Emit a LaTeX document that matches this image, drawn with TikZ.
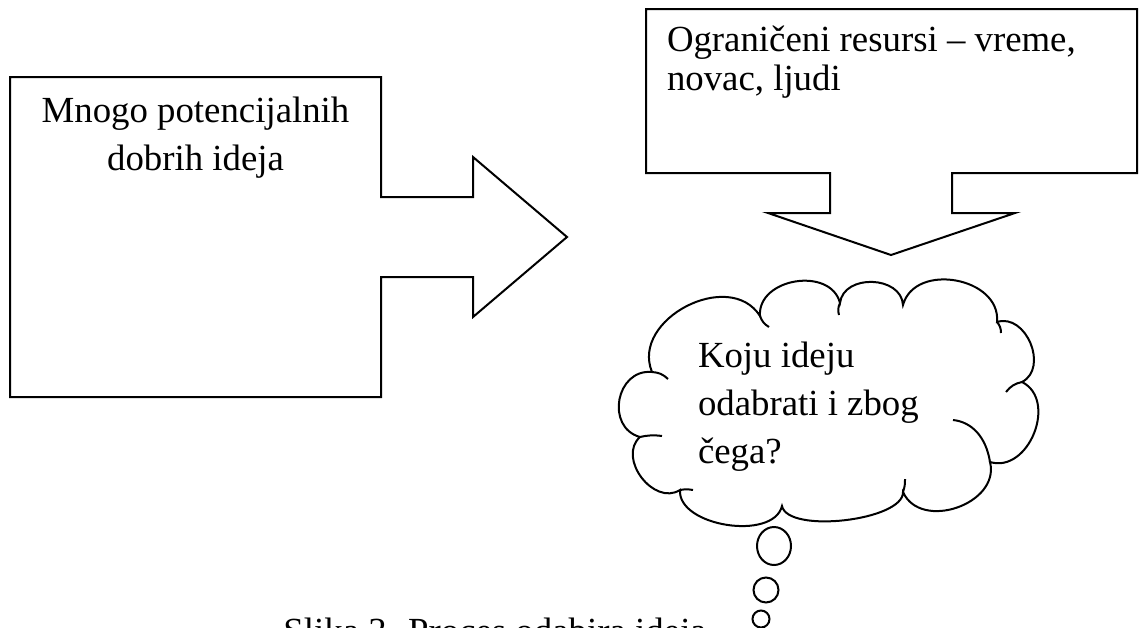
\documentclass[tikz,border=0pt]{standalone}
\usepackage{fontspec}
\setmainfont{Liberation Serif}
\begin{document}
\begin{tikzpicture}[x=0.5pt,y=-0.5pt,line width=1pt,line join=miter,
    txt/.style={inner sep=0pt,font=\fontsize{18.4}{24}\selectfont},
    puff/.style={bend left=85,looseness=1.2}]
  \useasboundingbox (0,0) rectangle (1140,627);
  \clip (0,0) rectangle (1140,627);
  \draw (10,77) -- (381,77) -- (381,197) -- (473,197) -- (473,157) -- (567,237)
        -- (473,317) -- (473,277) -- (381,277) -- (381,397) -- (10,397) -- cycle;
  \node[txt,anchor=base] (ideas1) at (195.5,122) {Mnogo potencijalnih};
  \node[txt,anchor=base] (ideas2) at (195.5,170) {dobrih ideja};
  \draw (646,9) -- (1137,9) -- (1137,173) -- (952,173) -- (952,213) -- (1015,213)
        -- (891,255) -- (768,213) -- (830,213) -- (830,173) -- (646,173) -- cycle;
  \node[txt,anchor=base west] (res1) at (666,51) {Ograničeni resursi -- vreme,};
  \node[txt,anchor=base west] (res2) at (666,90) {novac, ljudi};
  \draw (652,372) to[puff] (760,316) to[puff] (840,303) to[puff] (903,305)
        to[puff] (997,322) to[puff] (1022,382) to[puff] (990,462) to[puff] (903,492)
        to[puff,looseness=0.6] (782,506) to[puff,looseness=0.9] (680,490)
        to[puff] (640,437) to[puff,looseness=1.4] (652,372);
  \draw (652,372) to[bend left=20] (668,379);
  \draw (760,316) to[bend right=20] (769,327);
  \draw (840,303) to[bend right=20] (839,315);
  \draw (997,322) to[bend left=20] (1001,333);
  \draw (1022,382) to[bend right=20] (1006,392);
  \draw (990,462) .. controls (986,437) and (972,422) .. (953,420);
  \draw (903,492) to[bend right=10] (905,479);
  \draw (680,490) to[bend left=10] (693,490);
  \draw (640,437) to[bend left=10] (662,436);
  \node[txt,anchor=base west] (q1) at (697,367) {Koju ideju};
  \node[txt,anchor=base west] (q2) at (697,415) {odabrati i zbog};
  \node[txt,anchor=base west] (q3) at (697,463) {čega?};
  \draw (774,546) ellipse [x radius=17,y radius=19];
  \draw (766,590) circle (12.5);
  \draw (761,619) circle (8.5);
  \node[txt,anchor=base] (caption) at (495,643) {Slika 3. Proces odabira ideja};
\end{tikzpicture}
\end{document}
